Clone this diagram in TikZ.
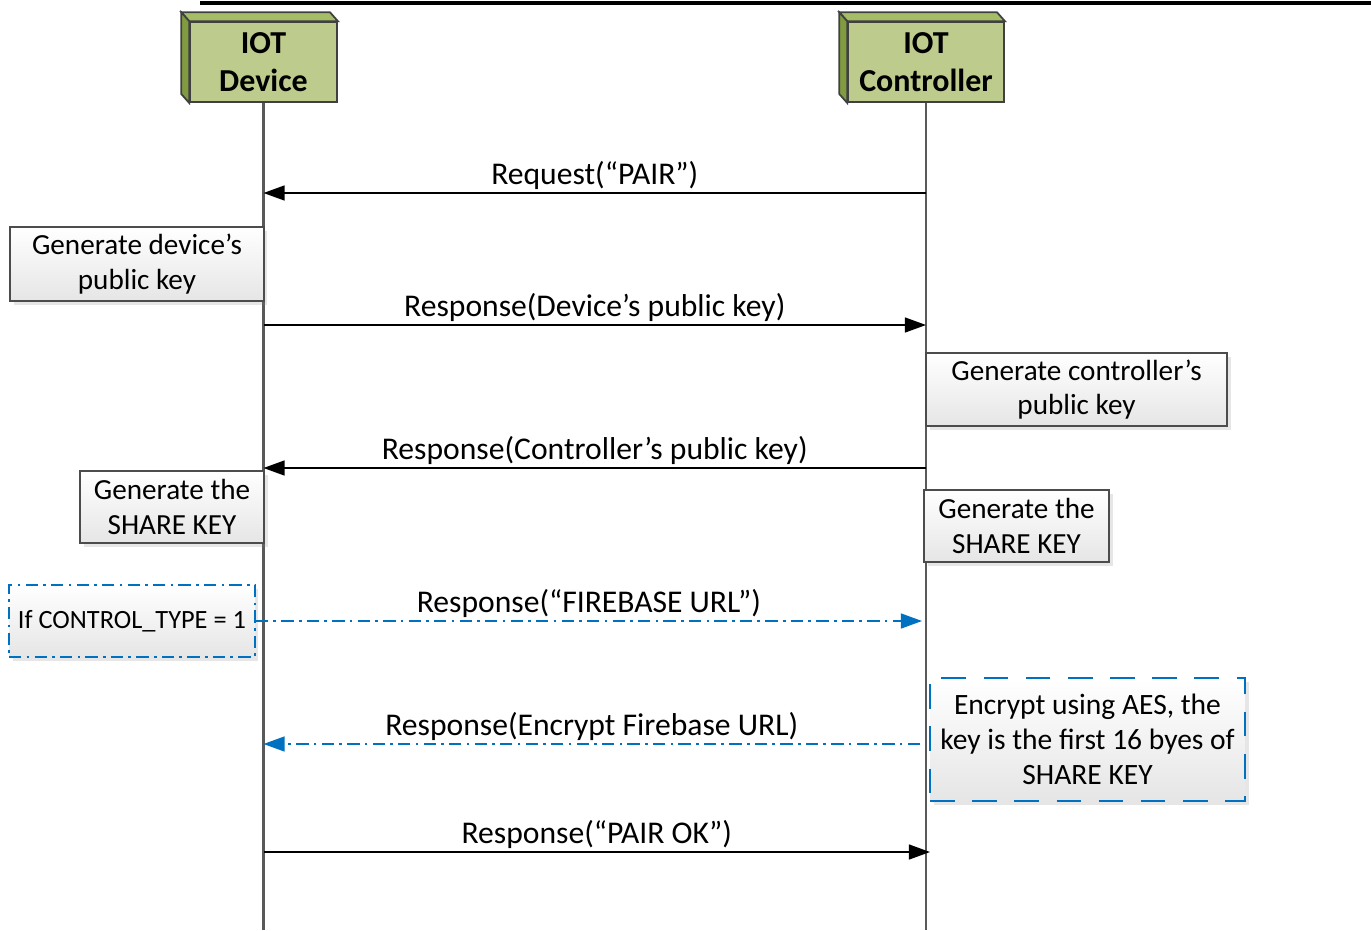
\documentclass[tikz,border=0pt]{standalone}
\usepackage{fontspec}
\setmainfont{Carlito}
\usetikzlibrary{arrows.meta,shadows}
\definecolor{headfront}{HTML}{BDCC8C}
\definecolor{headtop}{HTML}{A6BD68}
\definecolor{headside}{HTML}{809B40}
\definecolor{msgblue}{HTML}{0070C0}
\tikzset{
  head/.style={draw=black!75, line width=1pt, fill=headfront, minimum height=1.6cm,
    align=center, font=\fontsize{18.2}{21.5}\selectfont\bfseries},
  lifeline/.style={draw=black!65, line width=1.3pt},
  task/.style={draw=black!70, line width=0.9pt, top color=white, bottom color=black!10,
    align=center, inner sep=0pt, minimum height=1.44cm, font=\fontsize{16.6}{19.5}\selectfont,
    drop shadow={opacity=0.2, shadow xshift=2pt, shadow yshift=-2pt}},
  cond/.style={task, draw=msgblue, line width=1pt, font=\fontsize{15}{18}\selectfont,
    dash pattern=on 7pt off 3pt on 1.5pt off 3pt},
  aes/.style={task, draw=msgblue, line width=1.1pt, font=\fontsize{16.8}{20}\selectfont,
    dash pattern=on 14pt off 10pt},
  msg/.style={line width=0.9pt, -{Triangle[length=12pt,width=8.5pt]}},
  bluemsg/.style={msg, draw=msgblue, dash pattern=on 7pt off 3pt on 1.5pt off 3pt},
  lbl/.style={font=\fontsize{18}{21}\selectfont, midway, above=0pt, inner sep=1.5pt},
}
\begin{document}
\begin{tikzpicture}[x=0.02cm, y=-0.02cm]
  \useasboundingbox (0,0) rectangle (1371,930);
  \draw[line width=2.4pt] (200,3) -- (1371,3); % page rule

  % heads
  \node[head, minimum width=2.94cm] (dev) at (263.5,62) {IOT\\Device};
  \node[head, minimum width=3.12cm] (ctrl) at (926,62) {IOT\\Controller};
  \filldraw[fill=headtop, draw=black!75, line width=1pt] (dev.north west) -- ++(-8,-9)
    -- ([shift={(-8,-9)}]dev.north east) -- (dev.north east) -- cycle; % top
  \filldraw[fill=headside, draw=black!75, line width=1pt] (dev.north west) -- ++(-8,-9)
    -- ([shift={(-8,-9)}]dev.south west) -- (dev.south west) -- cycle; % left
  \filldraw[fill=headtop, draw=black!75, line width=1pt] (ctrl.north west) -- ++(-8,-9)
    -- ([shift={(-8,-9)}]ctrl.north east) -- (ctrl.north east) -- cycle; % top
  \filldraw[fill=headside, draw=black!75, line width=1pt] (ctrl.north west) -- ++(-8,-9)
    -- ([shift={(-8,-9)}]ctrl.south west) -- (ctrl.south west) -- cycle; % left

  % lifelines
  \coordinate (devEnd) at (263.5,930);
  \coordinate (ctrlEnd) at (926,930);
  \draw[lifeline] (dev.south) -- (devEnd);
  \draw[lifeline] (ctrl.south) -- (ctrlEnd);

  % steps
  \node[task, minimum width=5.08cm, minimum height=1.48cm] (devkey) at (137,264) {Generate device’s\\public key};
  \node[task, minimum width=6.02cm, minimum height=1.46cm] (ctrlkey) at (1076.5,389.5) {Generate controller’s\\public key};
  \node[task, minimum width=3.68cm] (devshare) at (172,507) {Generate the\\SHARE KEY};
  \node[task, minimum width=3.7cm] (ctrlshare) at (1016.5,526) {Generate the\\SHARE KEY};
  \node[cond, minimum width=4.92cm] (cond) at (132,621) {If CONTROL\_TYPE = 1};
  \node[aes, minimum width=6.3cm, minimum height=2.46cm] (aes) at (1087.5,739.5) {Encrypt using AES, the\\key is the first 16 byes of\\SHARE KEY};

  % messages
  \coordinate (d1) at (263.5,193); \coordinate (c1) at (926,193);
  \coordinate (d2) at (263.5,325); \coordinate (c2) at (926,325);
  \coordinate (d3) at (263.5,468); \coordinate (c3) at (926,468);
  \coordinate (c4) at (922,621);
  \coordinate (d5) at (263.5,744); \coordinate (c5) at (920,744);
  \coordinate (d6) at (263.5,852); \coordinate (c6) at (930,852);
  \draw[msg] (c1) -- node[lbl] {Request(“PAIR”)} (d1);
  \draw[msg] (d2) -- node[lbl] {Response(Device’s public key)} (c2);
  \draw[msg] (c3) -- node[lbl] {Response(Controller’s public key)} (d3);
  \draw[bluemsg] (cond.east) -- node[lbl, text=black] {Response(“FIREBASE URL”)} (c4);
  \draw[bluemsg] (c5) -- node[lbl, text=black] {Response(Encrypt Firebase URL)} (d5);
  \draw[msg] (d6) -- node[lbl] {Response(“PAIR OK”)} (c6);
\end{tikzpicture}
\end{document}
